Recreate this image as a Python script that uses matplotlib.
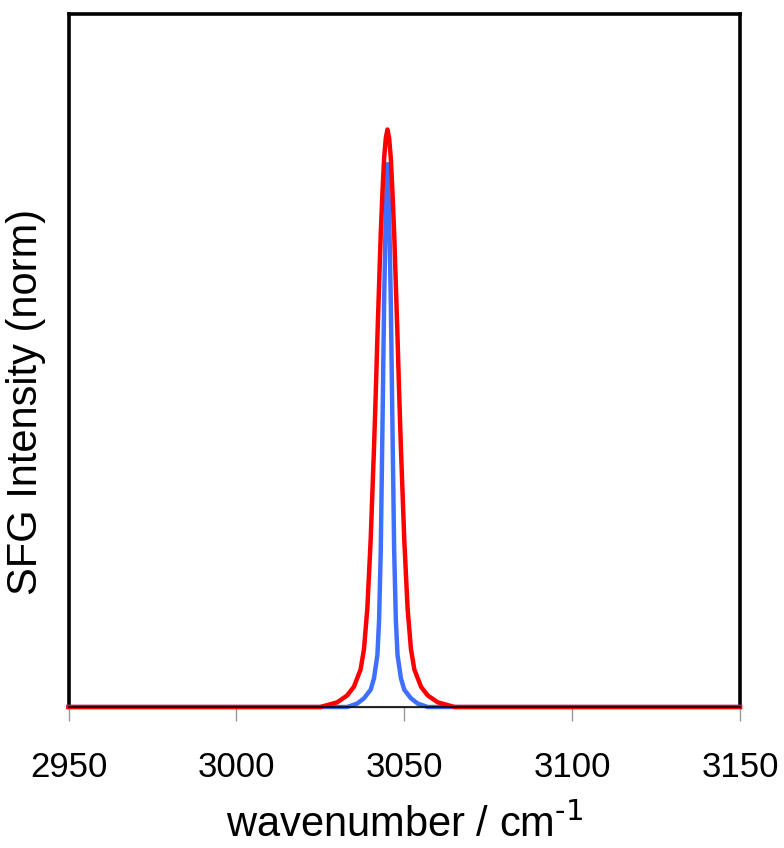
import matplotlib
matplotlib.use("Agg")
from matplotlib import pyplot as plt

plt.rcParams['font.family'] = ['Liberation Sans', 'DejaVu Sans']
plt.rcParams['mathtext.default'] = 'regular'

# spectra (wavenumber, normalised intensity)
red_x = [2950, 3025, 3030, 3033, 3035, 3037, 3038, 3039, 3040, 3041, 3041.5, 3042, 3042.5,
         3043, 3043.5, 3044, 3044.5, 3045, 3045.5, 3046, 3046.5, 3047, 3047.5, 3048,
         3048.5, 3049, 3050, 3051, 3052, 3053, 3055, 3057, 3060, 3065, 3150]
red_y = [0.0, 0.0, 0.008, 0.02, 0.035, 0.065, 0.10, 0.17, 0.29, 0.45, 0.54, 0.64, 0.73,
         0.82, 0.89, 0.95, 0.985, 1.0, 0.985, 0.95, 0.89, 0.82, 0.73, 0.64,
         0.54, 0.45, 0.29, 0.17, 0.10, 0.065, 0.035, 0.02, 0.008, 0.0, 0.0]

blue_x = [2950, 3033, 3036, 3038, 3040, 3041, 3042, 3042.5, 3043, 3043.5, 3044, 3044.5,
          3045, 3045.5, 3046, 3046.5, 3047, 3047.5, 3048, 3049, 3050, 3052, 3054, 3057, 3150]
blue_y = [0.0, 0.0, 0.006, 0.015, 0.03, 0.05, 0.09, 0.15, 0.27, 0.48, 0.70, 0.86,
          0.94, 0.86, 0.70, 0.48, 0.27, 0.15, 0.09, 0.05, 0.03, 0.015, 0.006, 0.0, 0.0]

base_x = [2950, 3150]
base_y = [0.0, 0.0]

xticks = [2950, 3000, 3050, 3100, 3150]

fig = plt.figure(figsize=(7.84, 8.48), dpi=100)
ax = fig.add_axes([68.5 / 784, 1 - 707 / 848, (740 - 68.5) / 784, (707 - 14) / 848])

ax.plot(blue_x, blue_y, color='#3f6fff', lw=3.2, clip_on=False, zorder=3)
ax.plot(red_x, red_y, color='#ff0000', lw=3.2, clip_on=False, zorder=4)
ax.plot(base_x, base_y, color='black', lw=1.5, alpha=0.8, clip_on=False, zorder=5)

ax.set_xlim(2950, 3150)
ax.set_ylim(0, 1.2)
ax.set_xticks(xticks)
ax.set_yticks([])
ax.tick_params(axis='x', direction='out', length=10, width=1, color='#999999',
               labelsize=25, pad=22)

for s in ['left', 'top', 'right']:
    ax.spines[s].set_linewidth(2.6)
    ax.spines[s].set_color('black')
ax.spines['bottom'].set_color('#999999')
ax.spines['bottom'].set_linewidth(1)

ax.set_xlabel(r'wavenumber / cm$^{\text{-1}}$', fontsize=30, labelpad=14)
ax.set_ylabel('SFG Intensity (norm)', fontsize=30)
ax.yaxis.set_label_coords(-0.034, 0.44)

fig.savefig('out.png', dpi=100)
